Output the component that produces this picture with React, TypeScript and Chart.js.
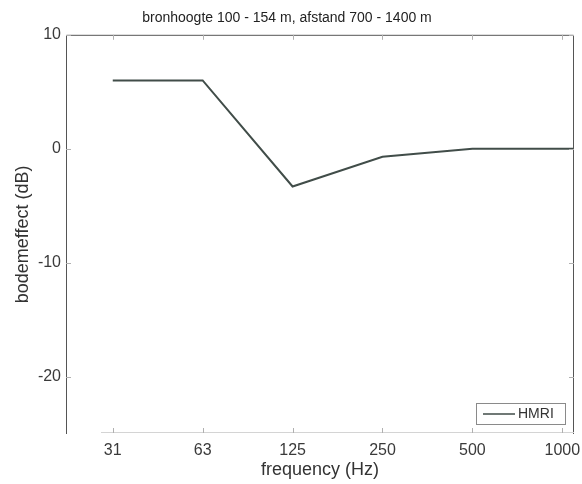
import React, { useEffect, useRef } from "react";
import { Chart, registerables } from "chart.js";

Chart.register(...registerables);

// octave-band position (0 = 31 Hz, 1 = 63 Hz, ...); the last point lies past the 1000 Hz tick
const bandIndex = [0, 1, 2, 3, 4, 5, 6];
const hmriValues = [6, 6, -3.3, -0.7, 0, 0, 0];
const tickIndex = [0, 1, 2, 3, 4, 5];
const bandLabels = ["31", "63", "125", "250", "500", "1000"];
const yTicks = [-20, -10, 0, 10];
const titleText = "bronhoogte 100 - 154 m, afstand 700 - 1400 m";
const xTitle = "frequency (Hz)";
const yTitle = "bodemeffect (dB)";
const seriesName = "HMRI";

const FONT = "'Liberation Sans', Arial, sans-serif";
const LINE = "#414d49";

const framePlugin = {
  id: "frame",
  afterDraw(chart: any) {
    const { ctx, chartArea: a } = chart;
    ctx.save();
    ctx.strokeStyle = "#555";
    ctx.lineWidth = 1;
    ctx.beginPath();
    ctx.moveTo(a.left + 0.5, a.bottom);
    ctx.lineTo(a.left + 0.5, a.top + 0.5);
    ctx.lineTo(a.right - 0.5, a.top + 0.5);
    ctx.lineTo(a.right - 0.5, a.bottom);
    ctx.stroke();
    ctx.strokeStyle = "#d4d4d4";
    ctx.beginPath();
    ctx.moveTo(a.left + 35, a.bottom - 1.5);
    ctx.lineTo(a.right, a.bottom - 1.5);
    ctx.stroke();
    const xs = chart.scales.x;
    const ys = chart.scales.y;
    ctx.strokeStyle = "#b0b0b0";
    ctx.beginPath();
    tickIndex.forEach((v) => {
      const px = Math.round(xs.getPixelForValue(v)) + 0.5;
      ctx.moveTo(px, a.top);
      ctx.lineTo(px, a.top + 5);
      ctx.moveTo(px, a.bottom - 1);
      ctx.lineTo(px, a.bottom - 6);
    });
    yTicks.forEach((v) => {
      const py = Math.round(ys.getPixelForValue(v)) + 0.5;
      ctx.moveTo(a.left, py);
      ctx.lineTo(a.left + 5, py);
      ctx.moveTo(a.right, py);
      ctx.lineTo(a.right - 5, py);
    });
    ctx.stroke();
    // legend box
    const bx = 476, by = 403, bw = 89, bh = 21;
    ctx.fillStyle = "#fff";
    ctx.fillRect(bx, by, bw, bh);
    ctx.strokeStyle = "#8a8a8a";
    ctx.lineWidth = 1;
    ctx.strokeRect(bx + 0.5, by + 0.5, bw, bh);
    ctx.strokeStyle = LINE;
    ctx.lineWidth = 1.5;
    ctx.beginPath();
    ctx.moveTo(483, by + 11);
    ctx.lineTo(515, by + 11);
    ctx.stroke();
    ctx.fillStyle = "#333";
    ctx.font = `14px ${FONT}`;
    ctx.textBaseline = "middle";
    ctx.textAlign = "left";
    ctx.fillText(seriesName, 518, by + 11.5);
    ctx.restore();
  },
};

export default function App() {
  const ref = useRef<HTMLCanvasElement>(null);
  useEffect(() => {
    if (!ref.current) return;
    const chart = new Chart(ref.current, {
      type: "line",
      data: {
        datasets: [
          {
            label: seriesName,
            data: bandIndex.map((x, i) => ({ x, y: hmriValues[i] })),
            borderColor: LINE,
            borderWidth: 2,
            pointRadius: 0,
            tension: 0,
            clip: 0,
          },
        ],
      },
      options: {
        responsive: false,
        animation: false,
        layout: { padding: { left: 0, right: 8, top: 0, bottom: 0 } },
        plugins: {
          legend: { display: false },
          tooltip: { enabled: false },
          title: {
            display: true,
            text: titleText,
            color: "#222",
            font: { family: FONT, size: 14, weight: "normal" },
            padding: { top: 10, bottom: 8 },
            position: "top",
          },
        },
        scales: {
          x: {
            type: "linear",
            min: -0.52,
            max: 5.13,
            afterBuildTicks: (s: any) => {
              s.ticks = tickIndex.map((v) => ({ value: v }));
            },
            afterFit: (s: any) => {
              s.height = 50;
              s.paddingLeft = 0;
              s.paddingRight = 0;
            },
            ticks: {
              callback: (v: any) => bandLabels[Math.round(Number(v))] ?? "",
              color: "#3a3a3a",
              font: { family: FONT, size: 16 },
              padding: 7,
              maxRotation: 0,
              autoSkip: false,
            },
            grid: { display: false, drawTicks: false },
            border: { display: false },
            title: {
              display: true,
              text: xTitle,
              color: "#333",
              font: { family: FONT, size: 18 },
              padding: { top: 0, bottom: 3 },
            },
          },
          y: {
            type: "linear",
            min: -25,
            max: 10,
            afterBuildTicks: (s: any) => {
              s.ticks = yTicks.map((v) => ({ value: v }));
            },
            afterFit: (s: any) => {
              s.width = 66;
              s.paddingTop = 0;
              s.paddingBottom = 0;
            },
            ticks: {
              color: "#3a3a3a",
              font: { family: FONT, size: 16 },
              padding: 5,
            },
            grid: { display: false, drawTicks: false },
            border: { display: false },
            title: {
              display: true,
              text: yTitle,
              color: "#333",
              font: { family: FONT, size: 18 },
              padding: { top: 12, bottom: 0 },
            },
          },
        },
      },
      plugins: [framePlugin],
    } as any);
    return () => chart.destroy();
  }, []);
  return (
    <div style={{ position: "fixed", left: 0, top: 0, width: 582, height: 484, background: "#fff" }}>
      <canvas ref={ref} width={582} height={484} style={{ display: "block" }} />
    </div>
  );
}
